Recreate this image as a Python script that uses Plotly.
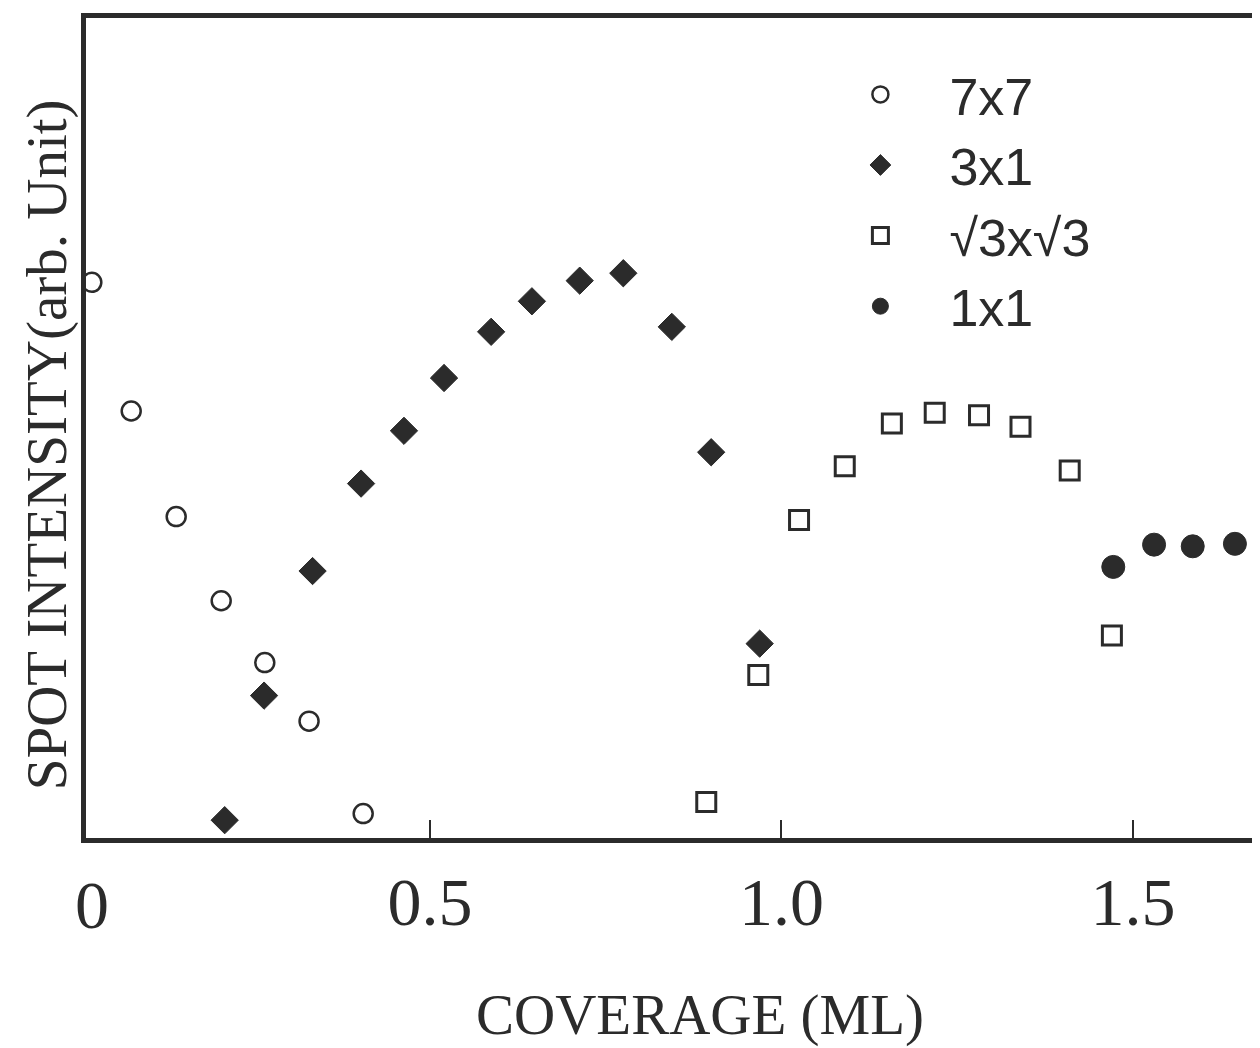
import plotly.graph_objects as go

# 7x7 (open circles)
x_7x7 = [0.019, 0.075, 0.139, 0.203, 0.265, 0.328, 0.405]
y_7x7 = [6.76, 5.20, 3.92, 2.90, 2.15, 1.44, 0.32]

# 3x1 (filled diamonds)
x_3x1 = [0.208, 0.264, 0.333, 0.402, 0.463, 0.520, 0.587, 0.645, 0.713, 0.775, 0.844, 0.900, 0.969]
y_3x1 = [0.24, 1.75, 3.26, 4.32, 4.96, 5.60, 6.16, 6.53, 6.78, 6.87, 6.22, 4.70, 2.38]

# sqrt3 x sqrt3 (open squares)
x_r3 = [0.893, 0.967, 1.025, 1.090, 1.157, 1.218, 1.281, 1.340, 1.410, 1.470]
y_r3 = [0.46, 2.00, 3.88, 4.53, 5.05, 5.18, 5.15, 5.01, 4.48, 2.48]

# 1x1 (filled circles)
x_1x1 = [1.472, 1.530, 1.585, 1.645]
y_1x1 = [3.31, 3.58, 3.56, 3.59]

x_ticks = [0.5, 1.0, 1.5]
x_ticktext = ["0.5", "1.0", "1.5"]

INK = "#2b2b2b"

fig = go.Figure()
fig.add_trace(go.Scatter(x=x_7x7, y=y_7x7, mode="markers", name="7x7",
                         marker=dict(symbol="circle", size=19, color="white",
                                     line=dict(color=INK, width=2.5))))
fig.add_trace(go.Scatter(x=x_3x1, y=y_3x1, mode="markers", name="3x1",
                         marker=dict(symbol="diamond", size=21, color=INK,
                                     line=dict(color=INK, width=1))))
fig.add_trace(go.Scatter(x=x_r3, y=y_r3, mode="markers", name="√3x√3",
                         marker=dict(symbol="square", size=19, color="white",
                                     line=dict(color=INK, width=3))))
fig.add_trace(go.Scatter(x=x_1x1, y=y_1x1, mode="markers", name="1x1",
                         marker=dict(symbol="circle", size=23, color=INK,
                                     line=dict(color=INK, width=1))))

# page body adds an 8px margin, so the figure is 8px smaller than the window
fig.update_layout(
    width=1252, height=1040,
    margin=dict(l=78, r=4, t=10, b=210, autoexpand=False),
    paper_bgcolor="white", plot_bgcolor="white",
    font=dict(family="Liberation Serif", color=INK),
    showlegend=True,
    legend=dict(x=0.620, y=0.956, xanchor="left", yanchor="top",
                font=dict(family="Liberation Sans", size=52, color=INK),
                bgcolor="rgba(0,0,0,0)", itemwidth=128, tracegroupgap=0),
    annotations=[
        dict(text="0", x=0.019, y=0, xref="x", yref="paper",
             yanchor="top", yshift=-27, showarrow=False,
             font=dict(family="Liberation Serif", size=68, color=INK)),
        dict(text="COVERAGE (ML)", x=0.5248, y=-0.2159, xref="paper", yref="paper",
             xanchor="center", yanchor="middle", showarrow=False,
             font=dict(family="Liberation Serif", size=57, color=INK)),
        dict(text="SPOT INTENSITY(arb. Unit)", x=-0.0333, y=0.479,
             xref="paper", yref="paper", textangle=-90,
             xanchor="center", yanchor="middle", showarrow=False,
             font=dict(family="Liberation Serif", size=57, color=INK)),
    ],
)
fig.update_xaxes(range=[0.0107, 1.675], tickvals=x_ticks, ticktext=x_ticktext,
                 ticks="inside", ticklen=18, tickwidth=2, tickcolor=INK,
                 showline=True, linewidth=5, linecolor=INK, mirror=True,
                 showgrid=False, zeroline=False, automargin=False,
                 tickfont=dict(family="Liberation Serif", size=68, color=INK),
                 ticklabelstandoff=0)
fig.update_yaxes(range=[0.024, 9.964], showticklabels=False, ticks="",
                 showline=True, linewidth=5, linecolor=INK, mirror=True,
                 showgrid=False, zeroline=False, automargin=False)

fig.write_html("out.html")
